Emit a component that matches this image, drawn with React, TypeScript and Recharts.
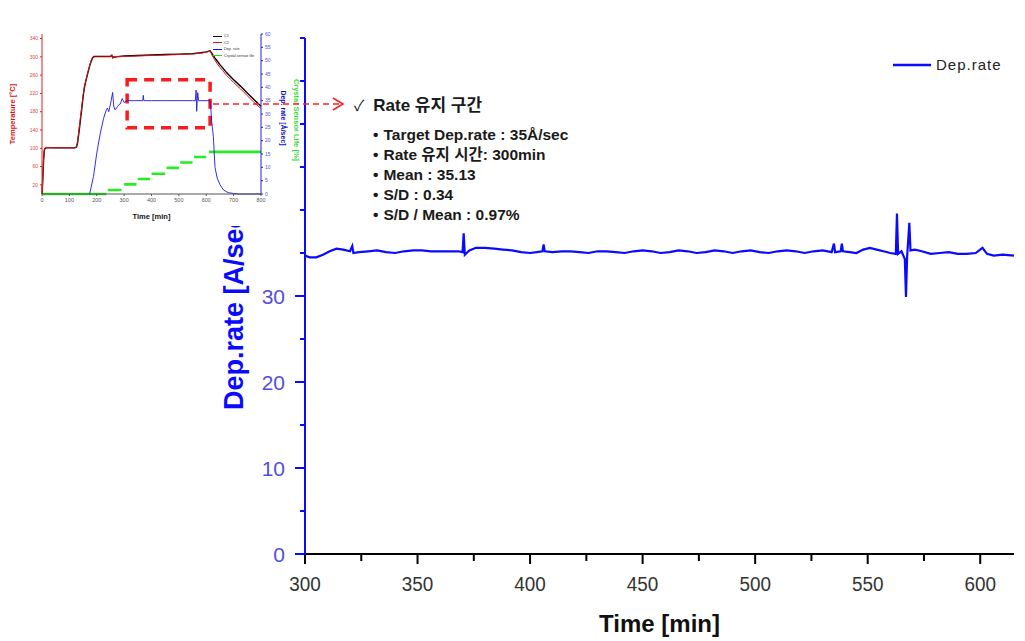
import React from 'react';
import {
  LineChart,
  Line,
  XAxis,
  YAxis,
  ReferenceArea,
} from 'recharts';

// main chart: deposition rate during the rate-hold window
const mainTime = [
  300, 302, 305, 308, 311, 314, 317, 320, 321, 321.5, 324, 328, 332, 336, 340, 344, 348, 352, 356, 360,
  364, 368, 370, 370.5, 371, 373, 376, 380, 384, 388, 392, 396, 400, 403, 405.5, 406, 406.5, 410, 414, 418,
  422, 426, 430, 434, 438, 442, 446, 450, 454, 458, 462, 466, 470, 474, 478, 482, 486, 490, 494, 498,
  502, 506, 510, 514, 518, 522, 526, 530, 534, 535, 535.5, 538, 538.5, 539, 542, 545, 548, 551, 554, 557,
  560, 562.5, 563, 563.5, 565, 566.5, 567, 567.5, 568.5, 569, 571, 574, 578, 582, 586, 590, 594, 598, 601, 603,
  606, 610, 615,
];
const mainRate = [
  34.7, 34.5, 34.5, 34.8, 35.2, 35.5, 35.4, 35.2, 35.8, 35.0, 35.1, 35.2, 35.3, 35.1, 35.0, 35.2, 35.3, 35.3, 35.2, 35.2,
  35.2, 35.2, 35.1, 37.3, 34.8, 35.3, 35.6, 35.6, 35.5, 35.4, 35.3, 35.1, 35.0, 35.1, 35.2, 36.0, 35.2, 35.1, 35.2, 35.2,
  35.1, 35.0, 35.2, 35.2, 35.1, 35.0, 35.2, 35.3, 35.2, 35.0, 35.1, 35.3, 35.2, 35.0, 35.1, 35.3, 35.2, 35.0, 35.2, 35.3,
  35.1, 35.0, 35.2, 35.3, 35.2, 35.0, 35.2, 35.3, 35.1, 36.1, 35.1, 35.2, 36.1, 35.2, 35.1, 35.0, 35.4, 35.6, 35.4, 35.2,
  35.0, 34.9, 39.6, 34.9, 35.2, 34.3, 29.9, 34.5, 38.5, 35.3, 35.4, 35.2, 34.9, 35.0, 35.1, 34.9, 34.9, 35.0, 35.6, 34.9,
  34.7, 34.8, 34.7,
];
const mainXTicks = [300, 325, 350, 375, 400, 425, 450, 475, 500, 525, 550, 575, 600];
const mainYTicks = [0, 5, 10, 15, 20, 25, 30, 35, 40, 45, 50, 55, 60];
const mainYLabelMax = 30; // labels above this sit under the inset

// inset: whole run overview
const tempTime = [
  0, 2, 4, 6, 8, 10, 15, 60, 120, 126, 130, 135, 140, 145, 150, 155, 160, 165, 170, 175, 180, 185, 190, 220,
  250, 255, 258, 262, 266, 270, 300, 350, 400, 450, 500, 550, 580, 600, 614, 620, 630, 640, 650, 660, 675,
  690, 700, 725, 750, 775, 800,
];
const tempC1 = [
  0, 22, 50, 76, 93, 99, 101, 101, 101, 103, 112, 135, 160, 185, 212, 233, 247, 259, 271, 282, 291, 298, 301, 301,
  301, 303, 299, 300, 299, 300, 302, 303, 304, 305, 306, 307, 309, 311, 313, 308, 299, 291, 283, 276, 265,
  256, 250, 236, 221, 206, 192,
];
const tempC2 = [
  0, 25, 55, 80, 95, 100, 102, 101, 101, 103, 115, 140, 165, 190, 215, 235, 248, 260, 272, 283, 292, 299, 300, 300,
  300, 305, 296, 301, 298, 301, 301, 302, 303, 304, 305, 306, 308, 310, 313, 305, 294, 285, 277, 270, 259,
  250, 244, 230, 215, 200, 187,
];
const insetRateTime = [
  174, 188, 200, 213, 225, 235, 239, 244, 251, 258, 262, 266, 271, 276, 281, 286, 293, 300, 310, 340, 368, 370,
  372, 400, 450, 500, 550, 560, 563, 565, 567, 569, 572, 580, 600, 612, 616, 620, 626, 632, 640, 650, 663,
  680, 700, 720, 800,
];
const insetRate = [
  0, 6.5, 15.3, 22.8, 28.4, 31.6, 32.2, 30.9, 34.1, 38.1, 33, 31.6, 32, 32.8, 33.5, 33.8, 35.8, 34.3, 35, 35, 35, 37,
  35, 35, 35, 35, 35, 35, 39, 31, 35, 38, 35, 35, 35, 35, 33, 27, 21.5, 10, 6, 3.5, 1.5,
  0.5, 0.2, 0, 0,
];
const sensorTime = [0, 235, 236, 240, 290, 291, 300, 345, 346, 350, 395, 396, 400, 450, 451, 455, 500, 501, 505, 550, 551, 555, 600, 601, 610, 800];
const sensorLife = [0, 0, null, 1.5, 1.5, null, 3.6, 3.6, null, 5.6, 5.6, null, 7.6, 7.6, null, 9.8, 9.8, null, 11.8, 11.8, null, 13.9, 13.9, null, 15.8, 15.8];
const insetXTicks = [0, 100, 200, 300, 400, 500, 600, 700, 800];
const insetTempTicks = [0, 20, 40, 60, 80, 100, 120, 140, 160, 180, 200, 220, 240, 260, 280, 300, 320, 340];
const insetRateTicks = [0, 5, 10, 15, 20, 25, 30, 35, 40, 45, 50, 55, 60];
const holdBox = { t1: 311, t2: 614, lo: 145, hi: 250 };

const notes = [
  'Target Dep.rate : 35Å/sec',
  'Rate 유지 시간: 300min',
  'Mean : 35.13',
  'S/D : 0.34',
  'S/D / Mean : 0.97%',
];

const zip = (xs: number[], ys: (number | null)[]) => xs.map((t, i) => ({ t, v: ys[i] }));

const mainData = zip(mainTime, mainRate);
const c1Data = zip(tempTime, tempC1);
const c2Data = zip(tempTime, tempC2);
const rateData = zip(insetRateTime, insetRate);
const sensorData = zip(sensorTime, sensorLife);

const BLUE = '#0a0aff';
const ARIAL = '"Liberation Sans", Arial, sans-serif';
const NOTE_FONT = '"Liberation Sans", "Noto Sans CJK KR", sans-serif';

const XTick = (props: any) => {
  const { x, y, payload } = props;
  const major = payload.value % 50 === 0;
  return (
    <g>
      <line x1={x} x2={x} y1={y} y2={y + (major ? 10 : 7)} stroke="#000" strokeWidth={2} />
      {major && (
        <text x={x} y={y + 37} textAnchor="middle" fontSize={21} fontFamily={ARIAL} fill="#333" transform={`translate(${x} 0) scale(0.9 1) translate(${-x} 0)`}>
          {payload.value}
        </text>
      )}
    </g>
  );
};

const YTick = (props: any) => {
  const { x, y, payload } = props;
  const major = payload.value % 10 === 0;
  return (
    <g>
      <line x1={x - (major ? 10 : 5)} x2={x} y1={y} y2={y} stroke={BLUE} strokeWidth={2} />
      {major && payload.value <= mainYLabelMax && (
        <text x={x - 20} y={y + 8} textAnchor="end" fontSize={21} fontFamily={ARIAL} fill="#5050e0">
          {payload.value}
        </text>
      )}
    </g>
  );
};

const MainLegend = () => (
  <div
    style={{
      position: 'absolute',
      left: 893,
      top: 56,
      display: 'flex',
      alignItems: 'center',
      fontFamily: ARIAL,
      fontSize: 15,
      letterSpacing: 1,
      color: '#222',
    }}
  >
    <svg width={38} height={6} style={{ marginRight: 5 }}>
      <line x1={0} x2={38} y1={3} y2={3} stroke={BLUE} strokeWidth={2.5} />
    </svg>
    Dep.rate
  </div>
);

const insetLegendItems = [
  { name: 'C1', color: '#000' },
  { name: 'C2', color: '#e01010' },
  { name: 'Dep. rate', color: '#1010e0' },
  { name: 'Crystal sensor life', color: '#22dd22' },
];

const InsetLegend = () => (
  <div
    style={{
      position: 'absolute',
      left: 213,
      top: 11,
      fontFamily: ARIAL,
      fontSize: 3.8,
      lineHeight: '6.5px',
      color: '#333',
    }}
  >
    {insetLegendItems.map((it) => (
      <div key={it.name} style={{ display: 'flex', alignItems: 'center', whiteSpace: 'nowrap' }}>
        <span style={{ display: 'inline-block', flex: 'none', width: 9, height: 1.2, background: it.color, marginRight: 2 }} />
        {it.name}
      </div>
    ))}
  </div>
);

const SideTitle = ({ x, y, color, size, text }: { x: number; y: number; color: string; size: number; text: string }) => (
  <svg width={300} height={204} style={{ position: 'absolute', left: 0, top: 0, pointerEvents: 'none' }}>
    <text
      x={x}
      y={y}
      transform={`rotate(90 ${x} ${y})`}
      textAnchor="middle"
      dominantBaseline="central"
      fontFamily={ARIAL}
      fontWeight={700}
      fontSize={size}
      fill={color}
    >
      {text}
    </text>
  </svg>
);

const Inset = () => (
  <div style={{ position: 'absolute', left: 0, top: 22, width: 300, height: 204, background: '#fff' }}>
    <LineChart width={300} height={204} margin={{ top: 12, right: 14, bottom: 12, left: 12 }}>
      <XAxis
        dataKey="t"
        type="number"
        domain={[0, 800]}
        ticks={insetXTicks}
        height={20}
        allowDuplicatedCategory={false}
        stroke="#555"
        tickSize={2}
        tick={{ fontSize: 5.5, fill: '#555', fontFamily: ARIAL }}
        label={{
          value: 'Time [min]',
          position: 'insideBottom',
          offset: -5,
          style: { fontSize: 7.5, fontWeight: 700, fill: '#111', fontFamily: ARIAL },
        }}
      />
      <XAxis xAxisId="top" orientation="top" type="number" domain={[0, 800]} height={0} tick={false} tickLine={false} stroke="#000" />
      <YAxis
        yAxisId="temp"
        type="number"
        domain={[0, 350]}
        ticks={insetTempTicks}
        width={30}
        stroke="#e02020"
        tickSize={2}
        tick={{ fontSize: 5, fill: '#e04040', fontFamily: ARIAL }}
        label={{
          value: 'Temperature [°C]',
          angle: -90,
          position: 'insideLeft',
          offset: 0,
          style: { fontSize: 7.5, fontWeight: 700, fill: '#e01010', fontFamily: ARIAL, textAnchor: 'middle' },
        }}
      />
      <YAxis
        yAxisId="rate"
        orientation="right"
        type="number"
        domain={[0, 60]}
        ticks={insetRateTicks}
        width={25}
        stroke="#2020e0"
        tickSize={2}
        tick={{ fontSize: 5, fill: '#5050e0', fontFamily: ARIAL }}
      />
      <ReferenceArea
        yAxisId="temp"
        x1={holdBox.t1}
        x2={holdBox.t2}
        y1={holdBox.lo}
        y2={holdBox.hi}
        fill="none"
        stroke="#ff1a1a"
        strokeWidth={3.5}
        strokeDasharray="10 7"
        ifOverflow="visible"
      />
      <Line yAxisId="rate" data={sensorData} dataKey="v" stroke="#22ee22" strokeWidth={2.6} dot={false} isAnimationActive={false} />
      <Line yAxisId="temp" data={c1Data} dataKey="v" stroke="#000" strokeWidth={1.4} dot={false} isAnimationActive={false} />
      <Line yAxisId="temp" data={c2Data} dataKey="v" stroke="#e01010" strokeWidth={1} dot={false} isAnimationActive={false} />
      <Line yAxisId="rate" data={rateData} dataKey="v" stroke="#1a1ae0" strokeWidth={0.9} dot={false} isAnimationActive={false} />
    </LineChart>
    <InsetLegend />
    <SideTitle x={283} y={96} color="#1010d0" size={7} text="Dep. rate [Å/sec]" />
    <SideTitle x={296} y={98} color="#33dd33" size={7.5} text="Crystal Sensor Life [%]" />
  </div>
);

const App = () => (
  <div style={{ position: 'fixed', left: 0, top: 0, width: 1025, height: 641, background: '#fff', overflow: 'hidden' }}>
    <LineChart width={1025} height={641} data={mainData} margin={{ top: 38, right: 11, bottom: 47, left: 245 }}>
      <XAxis
        dataKey="t"
        type="number"
        domain={[300, 615]}
        ticks={mainXTicks}
        height={40}
        stroke="#000"
        strokeWidth={2}
        tickLine={false}
        tickSize={0}
        tickMargin={0}
        tick={<XTick />}
        label={{
          value: 'Time [min]',
          position: 'insideBottom',
          offset: -38,
          style: { fontSize: 24, fontWeight: 700, fontFamily: ARIAL, fill: '#111' },
        }}
      />
      <XAxis xAxisId="top" orientation="top" type="number" domain={[300, 615]} height={0} tick={false} tickLine={false} stroke="#000" strokeWidth={2} />
      <YAxis
        yAxisId="left"
        type="number"
        domain={[0, 60]}
        ticks={mainYTicks}
        width={60}
        stroke={BLUE}
        strokeWidth={2}
        tickLine={false}
        tickSize={0}
        tickMargin={0}
        tick={<YTick />}
        label={{
          value: 'Dep.rate [A/sec]',
          angle: -90,
          position: 'insideLeft',
          content: () => (
            <text
              x={243}
              y={410}
              transform="rotate(-90 243 410)"
              textAnchor="start"
              fontSize={27}
              fontWeight={700}
              fontFamily={ARIAL}
              fill={BLUE}
            >
              Dep.rate [A/sec]
            </text>
          ),
        }}
      />
      <YAxis yAxisId="right" orientation="right" type="number" domain={[0, 60]} width={0} tick={false} tickLine={false} stroke={BLUE} strokeWidth={2} />
      <Line yAxisId="left" dataKey="v" stroke={BLUE} strokeWidth={2.2} dot={false} isAnimationActive={false} />
    </LineChart>
    <MainLegend />

    <Inset />

    <svg width={1025} height={641} style={{ position: 'absolute', left: 0, top: 0, pointerEvents: 'none' }}>
      <line x1={213} x2={341} y1={104} y2={104} stroke="#ff2020" strokeWidth={1.6} strokeDasharray="6 4" />
      <polyline points="333,98 343,104 333,110" fill="none" stroke="#ff2020" strokeWidth={1.6} />
    </svg>

    <div style={{ position: 'absolute', left: 354, top: 95, fontFamily: NOTE_FONT, color: '#1a1a1a' }}>
      <div style={{ fontSize: 17, fontWeight: 700, lineHeight: '22px', whiteSpace: 'nowrap' }}>
        <span style={{ fontWeight: 400, fontSize: 15, marginRight: 9 }}>✓</span>Rate 유지 구간
      </div>
      <div style={{ marginLeft: 19, marginTop: 8 }}>
        {notes.map((n) => (
          <div key={n} style={{ fontSize: 15.5, fontWeight: 700, lineHeight: '20px', whiteSpace: 'nowrap' }}>
            <span style={{ marginRight: 5 }}>•</span>
            {n}
          </div>
        ))}
      </div>
    </div>
  </div>
);

export default App;
